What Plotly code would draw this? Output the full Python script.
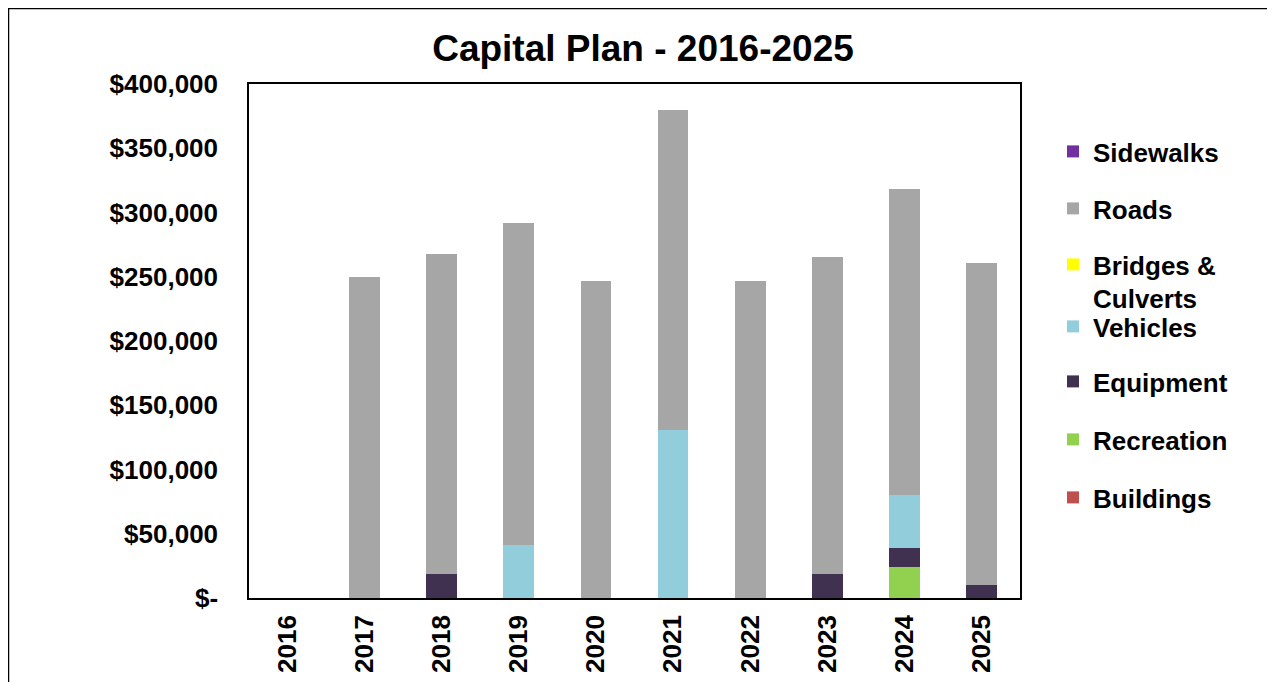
import plotly.graph_objects as go

years = ["2016", "2017", "2018", "2019", "2020", "2021", "2022", "2023", "2024", "2025"]

buildings = [0, 0, 0, 0, 0, 0, 0, 0, 0, 0]
recreation = [0, 0, 0, 0, 0, 0, 0, 0, 24000, 0]
equipment = [0, 0, 19000, 0, 0, 0, 0, 19000, 15000, 10500]
vehicles = [0, 0, 0, 41500, 0, 131000, 0, 0, 41000, 0]
bridges = [0, 0, 0, 0, 0, 0, 0, 0, 0, 0]
roads = [0, 250000, 249000, 250000, 246500, 249000, 247000, 246000, 238000, 250000]
sidewalks = [0, 0, 0, 0, 0, 0, 0, 0, 0, 0]

y_tickvals = [0, 50000, 100000, 150000, 200000, 250000, 300000, 350000, 400000]
y_ticktext = ["$-", "$50,000", "$100,000", "$150,000", "$200,000", "$250,000",
              "$300,000", "$350,000", "$400,000"]

series = [
    ("Buildings", buildings, "#C0504D"),
    ("Recreation", recreation, "#92D050"),
    ("Equipment", equipment, "#403151"),
    ("Vehicles", vehicles, "#92CDDC"),
    ("Bridges &<br>Culverts", bridges, "#FFFF00"),
    ("Roads", roads, "#A6A6A6"),
    ("Sidewalks", sidewalks, "#7030A0"),
]

# legend first-line text-centre rows in page pixels
legend_rows = {
    "Sidewalks": 152, "Roads": 209, "Bridges &<br>Culverts": 265,
    "Vehicles": 327, "Equipment": 382, "Recreation": 440, "Buildings": 498,
}

OFF = 8  # page body margin
W, H = 1275 - OFF, 682 - OFF
# plot area in page pixels
L, R, T, B = 249, 1020, 84, 598
pw, ph = R - L, B - T

def px_x(p):
    return (p - L) / pw

def px_y(p):
    return (B - p) / ph

FONT = "Liberation Sans, Arial, sans-serif"

fig = go.Figure()
layout_legends = {}
for i, (name, vals, col) in enumerate(series):
    lname = "legend" if i == 0 else f"legend{i+1}"
    fig.add_trace(go.Bar(
        x=years, y=vals, name=name, marker=dict(color=col, line=dict(width=0)),
        legend=lname,
    ))
    row = legend_rows[name]
    layout_legends[lname] = dict(
        x=px_x(1053), xanchor="left",
        y=px_y(row - 24), yanchor="top",
        font=dict(family=FONT, size=26, color="black", weight="bold"),
        bgcolor="rgba(0,0,0,0)", borderwidth=0, valign="top",
        itemclick=False, itemdoubleclick=False,
    )

fig.update_layout(
    width=W, height=H,
    barmode="stack", bargap=0.6,
    margin=dict(l=L - OFF, r=W - (R - OFF), t=T - OFF, b=H - (B - OFF), autoexpand=False),
    paper_bgcolor="white", plot_bgcolor="white",
    showlegend=True,
    title=dict(text="<b>Capital Plan - 2016-2025</b>", x=px_x(643), xanchor="center",
               xref="paper", y=1 - (48 - OFF) / H, yanchor="middle", yref="container",
               font=dict(family=FONT, size=37, color="black")),
    xaxis=dict(
        showline=True, linecolor="black", linewidth=1.5, mirror=True,
        showgrid=False, ticks="", tickangle=-90, automargin=False,
        tickfont=dict(family=FONT, size=26, color="black", weight="bold"),
        ticklabelstandoff=5,
    ),
    yaxis=dict(
        range=[0, 400000], tickvals=y_tickvals, ticktext=y_ticktext,
        showline=True, linecolor="black", linewidth=1.5, mirror=True,
        showgrid=False, zeroline=False, ticks="", automargin=False,
        tickfont=dict(family=FONT, size=26, color="black", weight="bold"),
        ticklabelstandoff=24,
    ),
    shapes=[dict(type="rect", xref="paper", yref="paper",
                 x0=px_x(8.5), x1=px_x(1300), y0=px_y(700), y1=px_y(8.5),
                 line=dict(color="black", width=1.5), fillcolor="rgba(0,0,0,0)",
                 layer="below")],
    **layout_legends,
)

fig.write_html("out.html")
